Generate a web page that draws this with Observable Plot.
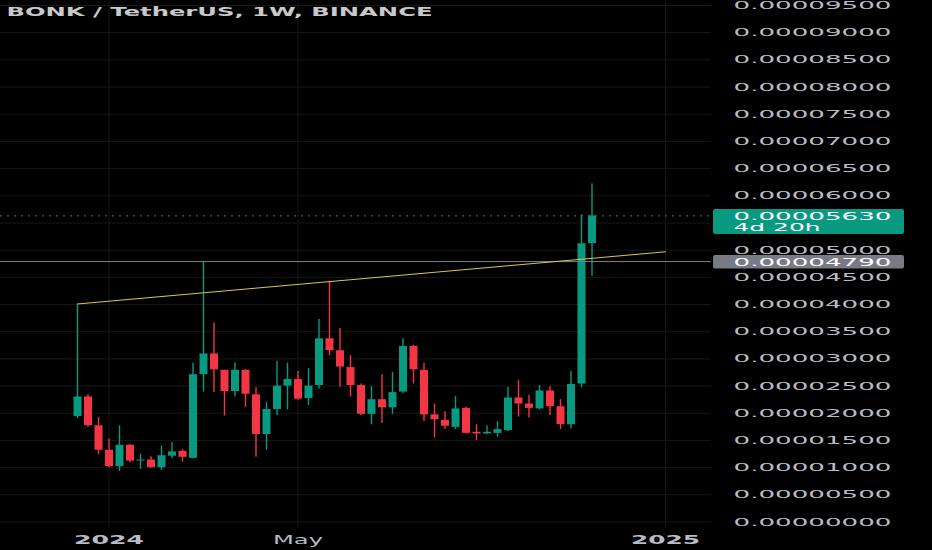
<!DOCTYPE html>
<html><head><meta charset="utf-8">
<script src="https://cdn.jsdelivr.net/npm/d3@7"></script>
<script src="https://cdn.jsdelivr.net/npm/@observablehq/plot@0.6"></script>
<style>
html,body{margin:0;padding:0;background:#000;}
#chart svg{display:block;}
</style>
</head><body><div id="chart"></div>
<script>
// ---- data ----
const title = "BONK / TetherUS, 1W, BINANCE";
const weeks = ["2023-12-11","2023-12-18","2023-12-25","2024-01-01","2024-01-08","2024-01-15","2024-01-22","2024-01-29","2024-02-05","2024-02-12",
  "2024-02-19","2024-02-26","2024-03-04","2024-03-11","2024-03-18","2024-03-25","2024-04-01","2024-04-08","2024-04-15","2024-04-22",
  "2024-04-29","2024-05-06","2024-05-13","2024-05-20","2024-05-27","2024-06-03","2024-06-10","2024-06-17","2024-06-24","2024-07-01",
  "2024-07-08","2024-07-15","2024-07-22","2024-07-29","2024-08-05","2024-08-12","2024-08-19","2024-08-26","2024-09-02","2024-09-09",
  "2024-09-16","2024-09-23","2024-09-30","2024-10-07","2024-10-14","2024-10-21","2024-10-28","2024-11-04","2024-11-11","2024-11-18"];
const open = [19.4e-6,23.0e-6,17.7e-6,13.2e-6,10.2e-6,14.1e-6,11.2e-6,11.4e-6,10.0e-6,12.1e-6,
  13.0e-6,11.7e-6,27.1e-6,30.9e-6,27.9e-6,24.0e-6,27.9e-6,23.4e-6,16.1e-6,20.7e-6,
  25.0e-6,26.2e-6,22.7e-6,25.1e-6,33.7e-6,31.5e-6,28.4e-6,25.1e-6,19.8e-6,22.5e-6,
  21.0e-6,23.9e-6,32.3e-6,27.9e-6,19.7e-6,18.7e-6,17.4e-6,20.9e-6,16.5e-6,16.2e-6,
  16.3e-6,16.8e-6,22.8e-6,21.7e-6,20.8e-6,24.1e-6,21.2e-6,17.9e-6,25.4e-6,51.2e-6];
const high = [40.1e-6,23.4e-6,19.2e-6,15.2e-6,17.7e-6,14.3e-6,12.5e-6,12.0e-6,14.0e-6,14.6e-6,
  13.3e-6,29.2e-6,47.9e-6,36.6e-6,27.9e-6,29.3e-6,28.0e-6,24.7e-6,22.0e-6,29.5e-6,
  29.2e-6,27.7e-6,28.2e-6,37.3e-6,44.3e-6,35.6e-6,30.6e-6,25.4e-6,24.9e-6,27.1e-6,
  27.5e-6,33.7e-6,32.5e-6,29.2e-6,21.7e-6,20.3e-6,23.1e-6,21.1e-6,17.9e-6,17.7e-6,
  18.5e-6,24.8e-6,26.0e-6,23.3e-6,25.1e-6,24.9e-6,22.5e-6,27.7e-6,56.5e-6,62.2e-6];
const low = [19.0e-6,17.4e-6,12.4e-6,10.0e-6,9.3e-6,10.9e-6,9.7e-6,9.9e-6,9.5e-6,11.7e-6,
  11.0e-6,11.6e-6,23.9e-6,23.8e-6,19.5e-6,23.0e-6,21.1e-6,11.9e-6,13.2e-6,19.6e-6,
  20.6e-6,22.4e-6,21.4e-6,24.4e-6,30.6e-6,24.8e-6,23.0e-6,19.6e-6,17.9e-6,18.1e-6,
  19.8e-6,23.6e-6,25.4e-6,18.5e-6,15.5e-6,17.0e-6,17.0e-6,16.2e-6,15.0e-6,16.1e-6,
  15.6e-6,16.6e-6,19.3e-6,19.1e-6,20.6e-6,19.6e-6,17.0e-6,17.1e-6,24.7e-6,45.2e-6];
const close = [23.0e-6,17.7e-6,13.2e-6,10.2e-6,14.1e-6,11.2e-6,11.4e-6,10.0e-6,12.2e-6,12.9e-6,
  11.9e-6,27.1e-6,30.9e-6,28.0e-6,24.0e-6,27.9e-6,23.5e-6,16.1e-6,20.7e-6,25.0e-6,
  26.2e-6,22.6e-6,25.0e-6,33.7e-6,31.5e-6,28.5e-6,25.1e-6,19.8e-6,22.5e-6,21.0e-6,
  23.8e-6,32.3e-6,28.0e-6,19.7e-6,18.8e-6,17.6e-6,20.8e-6,16.3e-6,16.2e-6,16.5e-6,
  17.0e-6,22.8e-6,21.7e-6,20.9e-6,24.1e-6,21.2e-6,17.9e-6,25.3e-6,51.2e-6,56.3e-6];

const xTickDates = ["2024-01-01","2024-05-06","2025-01-06"];
const xTickLabels = ["2024","May","2025"];
const yTicks = [0,5e-6,10e-6,15e-6,20e-6,25e-6,30e-6,35e-6,40e-6,45e-6,50e-6,55e-6,60e-6,65e-6,70e-6,75e-6,80e-6,85e-6,90e-6,95e-6];
const lastPrice = 56.3e-6;
const countdown = "4d 20h";
const levelPrice = 47.9e-6;
const trendDates = ["2023-12-11","2025-01-06"];
const trendValues = [40.1e-6, 49.7e-6];

// ---- build tables ----
const candles = weeks.map((w, i) => ({date: new Date(w), open: open[i], high: high[i], low: low[i], close: close[i]}));
const trend = trendDates.map((d, i) => ({date: new Date(d), value: trendValues[i]}));
const tickLabel = new Map(xTickDates.map((d, i) => [+new Date(d), xTickLabels[i]]));
const yearTicks = xTickDates.filter((d, i) => /^\d{4}$/.test(xTickLabels[i])).map(d => new Date(d));
const monthTicks = xTickDates.filter((d, i) => !/^\d{4}$/.test(xTickLabels[i])).map(d => new Date(d));
// the tick label hidden under the last-price tag is not shown
const yLabelTicks = yTicks.filter(v => Math.abs(v - lastPrice) > 3e-6);

const GREEN = "#089981", RED = "#f23645", GRID = "#171717", TXT = "#b8bcc4";
const W = 932, H = 550, mR = 221, mB = 22;
const plotW = W - mR;
// x: one week = 10.5 px; first candle centred at 77 px
const pxPerDay = 10.5 / 7, day = 864e5;
const t0 = +new Date(weeks[0]);
const xDomain = [new Date(t0 - 77 / pxPerDay * day), new Date(t0 + (plotW - 77) / pxPerDay * day)];
const yDomain = [-1.196e-6, 95.92e-6];
const col = d => d.close >= d.open ? GREEN : RED;

function priceTags(index, scales, values, dims) {
  const g = d3.create("svg:g");
  const x0 = dims.width - dims.marginRight + 2;
  const yl = scales.y(lastPrice);
  g.append("rect").attr("x", x0).attr("y", yl - 6.3).attr("width", 191).attr("height", 25).attr("rx", 2).attr("fill", GREEN);
  const yg = scales.y(levelPrice);
  g.append("rect").attr("x", x0).attr("y", yg - 6).attr("width", 191).attr("height", 13.5).attr("rx", 2).attr("fill", "#787b86");
  return g.node();
}

const chart = Plot.plot({
  width: W, height: H,
  marginLeft: 0, marginRight: mR, marginTop: 0, marginBottom: mB,
  style: {background: "#000", color: TXT, fontFamily: "DejaVu Sans, sans-serif", overflow: "visible"},
  x: {type: "utc", domain: xDomain},
  y: {domain: yDomain},
  marks: [
    Plot.ruleX(xTickDates.map(d => new Date(d)), {stroke: GRID, strokeWidth: 1}),
    Plot.ruleY(yTicks, {stroke: GRID, strokeWidth: 1}),
    Plot.ruleX(candles, {x: "date", y1: "low", y2: "high", stroke: col, strokeWidth: 1.4}),
    Plot.ruleX(candles, {x: "date", y1: "open", y2: "close", stroke: col, strokeWidth: 8}),
    Plot.ruleY([lastPrice], {stroke: GREEN, strokeWidth: 1, strokeDasharray: "2,5"}),
    Plot.ruleY([levelPrice], {stroke: "#7d8088", strokeWidth: 1}),
    Plot.line(trend, {x: "date", y: "value", stroke: "#d9c84e", strokeWidth: 1}),
    Plot.axisY(yLabelTicks, {anchor: "right", tickSize: 0, tickPadding: 22, fontSize: 11, tickFormat: d => d.toFixed(8), label: null}),
    Plot.axisX(yearTicks, {anchor: "bottom", tickSize: 0, tickPadding: 6, fontSize: 13, fontWeight: "bold", tickFormat: d => tickLabel.get(+d), label: null}),
    Plot.axisX(monthTicks, {anchor: "bottom", tickSize: 0, tickPadding: 6, fontSize: 13, tickFormat: d => tickLabel.get(+d), label: null}),
    priceTags,
    Plot.text([lastPrice], {y: d => d, frameAnchor: "right", dx: 22, dy: 6, textAnchor: "start", fontSize: 10.5, lineHeight: 1.1, fill: "#ffffff", text: d => d.toFixed(8) + "\n" + countdown}),
    Plot.text([levelPrice], {y: d => d, frameAnchor: "right", dx: 22, dy: 1, textAnchor: "start", fontSize: 11, fill: "#ffffff", text: d => d.toFixed(8)}),
    Plot.text([title], {frameAnchor: "top-left", dx: 6, dy: 7, lineAnchor: "top", textAnchor: "start", fontSize: 12, fontWeight: "bold", fill: "#c9c9c9"})
  ]
});
document.getElementById("chart").append(chart);

// horizontally stretched typography, as in the reference
const widths = {"2024": 70, "2025": 69, "May": 50};
widths[title] = 426; widths[countdown] = 87;
chart.querySelectorAll("text, tspan").forEach(t => {
  if (t.querySelector("tspan")) return;
  const s = t.textContent;
  let w = null;
  if (/^0\.\d{8}$/.test(s)) w = 158;
  else if (s in widths) w = widths[s];
  if (w) { t.setAttribute("textLength", w); t.setAttribute("lengthAdjust", "spacingAndGlyphs"); }
});
</script>
</body></html>
